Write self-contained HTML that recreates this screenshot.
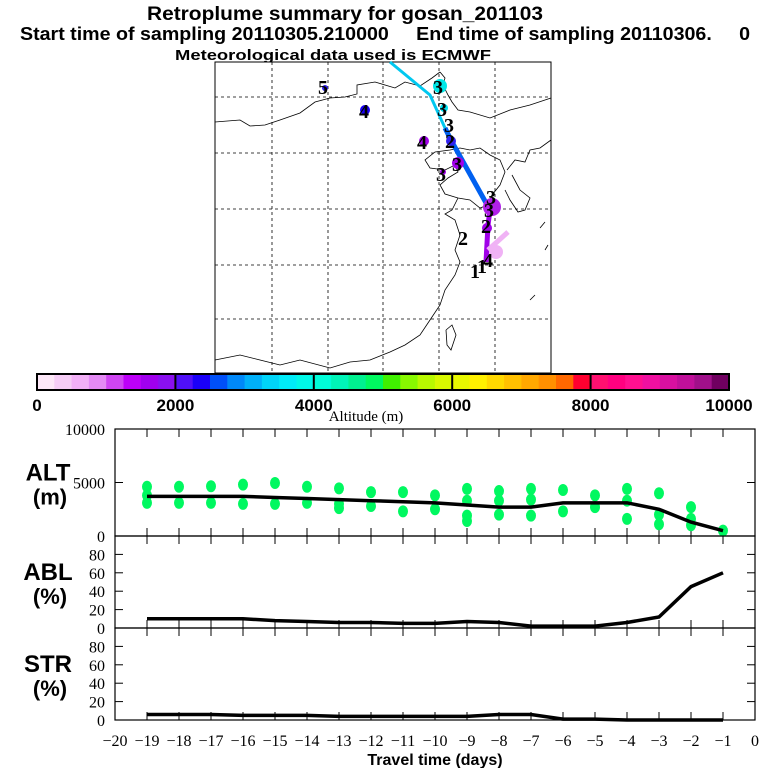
<!DOCTYPE html>
<html><head><meta charset="utf-8"><style>
html,body{margin:0;padding:0;background:#fff;}
svg{display:block;}
.t{font-family:"Liberation Sans",sans-serif;font-weight:bold;}
.s{font-family:"Liberation Serif",serif;}
text{white-space:pre;}
</style></head><body>
<svg id="c" width="768" height="768" viewBox="0 0 768 768" xmlns="http://www.w3.org/2000/svg">
<text class="t" x="147" y="20" font-size="19" textLength="396" lengthAdjust="spacingAndGlyphs">Retroplume summary for gosan_201103</text>
<text class="t" x="20" y="40" font-size="18" textLength="730" lengthAdjust="spacingAndGlyphs">Start time of sampling 20110305.210000     End time of sampling 20110306.     0</text>
<text class="t" x="175" y="60" font-size="15" textLength="316" lengthAdjust="spacingAndGlyphs">Meteorological data used is ECMWF</text>
<g id="map">
<rect x="215" y="62" width="336" height="311" fill="#fff" stroke="#000" stroke-width="1"/>
<g id="grid" stroke="#000" stroke-dasharray="3,3" stroke-width="0.8"></g>
<g fill="none" stroke="#000" stroke-width="0.8">
<polyline points="215,122 240,120 250,126 265,125 280,120 300,113 315,102 330,98 345,97 357,94 357,85 375,82 395,88 405,82 420,86 432,78 440,72"/>
<polyline points="440,72 445,78 443,85 448,95 452,102 458,110 470,112 490,118 510,110 530,105 551,98"/>
<polyline points="460,148 470,150 480,148 490,155 500,160 505,172 500,185 492,195 488,205 480,208 470,200 458,198 445,194 440,185 448,178 458,172 455,165 445,170 430,168 425,160 435,152 450,150 460,148"/>
<polyline points="458,198 452,210 445,214 455,220 460,235 455,250 460,262 455,275 445,290 440,305 430,320 420,335 405,345 390,352 370,360 350,362 330,368 300,360 280,365 260,360 240,355 215,360"/>
<polyline points="507,170 515,160 525,162 530,150 540,148 551,140"/>
<polyline points="512,175 520,190 530,198 525,210 518,212 510,200 505,190"/>
<polyline points="446,330 452,325 456,335 451,350 447,345 446,330"/>
<polyline points="530,300 535,295"/><polyline points="540,228 545,222"/><polyline points="545,250 548,245"/>
</g>
<g id="traj">
<polyline points="390,62 430,95 445,128" fill="none" stroke="#00c8f0" stroke-width="3"/>
<polyline points="445,128 452,142 490,210" fill="none" stroke="#0060f0" stroke-width="5"/>
<polyline points="490,210 488,225 486,262" fill="none" stroke="#a000e8" stroke-width="5"/>
<polyline points="488,250 508,232" fill="none" stroke="#f0b2f5" stroke-width="5"/>
<circle cx="440" cy="86" r="7" fill="#00e8e8"/><circle cx="444" cy="108" r="4" fill="#00e0f0"/>
<circle cx="451" cy="141" r="5" fill="#3020f0"/><circle cx="424" cy="141" r="5" fill="#a000e8"/>
<circle cx="458" cy="163" r="6" fill="#a000e8"/><circle cx="443" cy="172" r="3" fill="#a000e8"/>
<circle cx="365" cy="110" r="5" fill="#1a00f8"/><circle cx="325" cy="88" r="3" fill="#3020f0"/>
<circle cx="492" cy="207" r="9" fill="#b020e8"/><circle cx="487" cy="228" r="5" fill="#a000e8"/>
<circle cx="496" cy="252" r="7" fill="#f0b2f5"/>
</g>
<g class="s" font-size="20" fill="#000" font-weight="bold">
<text x="318" y="94">5</text><text x="359" y="118">4</text><text x="433" y="94">3</text><text x="437" y="116">3</text>
<text x="444" y="132">3</text><text x="445" y="148">2</text><text x="417" y="149">4</text><text x="452" y="171">3</text>
<text x="436" y="181">3</text><text x="486" y="204">3</text><text x="484" y="217">3</text><text x="481" y="233">2</text>
<text x="458" y="245">2</text><text x="483" y="267">4</text><text x="470" y="278">1</text><text x="477" y="273">1</text>
</g>
</g>
<g id="cbar"></g>
<text class="s" x="366" y="421" font-size="15" text-anchor="middle">Altitude (m)</text>
<g id="panels"></g>
<text class="t" x="435" y="765" font-size="16" text-anchor="middle">Travel time (days)</text>
</svg>
<script>
const NS="http://www.w3.org/2000/svg";
const days=[-19,-18,-17,-16,-15,-14,-13,-12,-11,-10,-9,-8,-7,-6,-5,-4,-3,-2,-1];
const altMean=[3700,3700,3700,3700,3600,3500,3400,3300,3200,3100,2900,2700,2700,3100,3100,3100,2500,1300,500];
const ablPct=[10,10,10,10,8,7,6,6,5,5,7,6,2,2,2,6,12,45,60];
const strPct=[6,6,6,5,5,5,4,4,4,4,4,6,6,1,1,0,0,0,0];
const dotDays=[-19,-19,-19,-18,-18,-17,-17,-16,-16,-15,-15,-14,-14,-13,-13,-13,-12,-12,-11,-11,-10,-10,-9,-9,-9,-9,-8,-8,-8,-7,-7,-7,-6,-6,-5,-5,-4,-4,-4,-3,-3,-3,-2,-2,-2,-1];
const dotAlts=[4600,3100,3800,4600,3100,4650,3100,4800,3000,4950,3000,4600,3100,4450,3000,2600,4100,2800,4100,2300,3800,2500,4400,3300,1900,1400,4200,3300,2000,4400,3400,1900,4300,2300,3800,2700,4400,3300,1600,4000,2000,1100,2700,1600,1000,500];
const cbColors=["#fde8f8","#f6cdf6","#f2b0f7","#e48af5","#cf45f2","#bd00f8","#a000ee","#8a10f0","#5010f8","#1a00f8","#0050f8","#0088f8","#00b0f8","#00d4f8","#00ecf8","#00f8e8","#00fcd8","#00f4b8","#00f090","#00f860","#40f000","#88f800","#b8f800","#d8f800","#e8f800","#fff000","#ffd800","#ffc000","#ffa800","#ff9000","#ff6800","#ff0030","#ff1070","#ff0080","#ff1090","#f010a0","#d810a0","#c0109a","#a0108a","#700060"];
const cbTicks=[0,2000,4000,6000,8000,10000];
const xTicks=[-20,-19,-18,-17,-16,-15,-14,-13,-12,-11,-10,-9,-8,-7,-6,-5,-4,-3,-2,-1,0];
const altTicks=[0,5000,10000];
const pctTicks=[0,20,40,60,80];
function mk(tag,attrs,parent){const e=document.createElementNS(NS,tag);for(const k in attrs)e.setAttribute(k,attrs[k]);parent.appendChild(e);return e;}
const grid=document.getElementById('grid');
[272,328,383,439,495].forEach(x=>mk('line',{x1:x,y1:62,x2:x,y2:373},grid));
[97,153,209,265,319].forEach(y=>mk('line',{x1:215,y1:y,x2:551,y2:y},grid));
const cb=document.getElementById('cbar');
const cbX=v=>37+v/10000*692;
cbColors.forEach((c,i)=>{const r=mk('rect',{x:cbX(i*250),y:374,width:692/40+0.5,height:16,fill:c},cb);

});
mk('rect',{x:37,y:374,width:692,height:16,fill:'none',stroke:'#000','stroke-width':2},cb);
cbTicks.forEach(v=>{mk('line',{x1:cbX(v),y1:374,x2:cbX(v),y2:390,stroke:'#000','stroke-width':2},cb);
const t=mk('text',{x:cbX(v),y:411,'font-size':17,'text-anchor':'middle','class':'t'},cb);t.textContent=v;

});
const P=document.getElementById('panels');
const X=d=>115+(d+20)*32;
const L=115,R=755;
function panel(top,bot,max,ticks,name,label1,label2){
 const Y=v=>bot-(v/max)*(bot-top);
 const g=mk('g',{},P);
 
 
 mk('rect',{x:L,y:top,width:R-L,height:bot-top,fill:'none',stroke:'#000','stroke-width':1.2},g);
 xTicks.forEach(d=>{if(d>-20&&d<0){mk('line',{x1:X(d),y1:top,x2:X(d),y2:top+8,stroke:'#000'},g);mk('line',{x1:X(d),y1:bot,x2:X(d),y2:bot-8,stroke:'#000'},g);}});
 ticks.forEach(v=>{mk('line',{x1:L,y1:Y(v),x2:L+8,y2:Y(v),stroke:'#000'},g);mk('line',{x1:R,y1:Y(v),x2:R-8,y2:Y(v),stroke:'#000'},g);
  if(v===max&&max===100)return;
  const t=mk('text',{x:L-10,y:Y(v)+6,'font-size':16,'text-anchor':'end','class':'s'},g);t.textContent=v;
  
  });
 const a=mk('text',{x:48,y:(top+bot)/2-2,'font-size':24,'text-anchor':'middle','class':'t'},g);a.textContent=label1;
 
 
 const b=mk('text',{x:50,y:(top+bot)/2+22,'font-size':22,'text-anchor':'middle','class':'t'},g);b.textContent=label2;
 
 
 return {g,Y};
}
const alt=panel(429,536,10000,altTicks,'alt','ALT','(m)');
dotDays.forEach((d,i)=>{const c=mk('ellipse',{cx:X(d),cy:alt.Y(dotAlts[i]),rx:5,ry:6,fill:'#00f860'},alt.g);

});
const lineA=mk('polyline',{points:days.map((d,i)=>X(d)+','+alt.Y(altMean[i])).join(' '),fill:'none',stroke:'#000','stroke-width':3.5},alt.g);


const abl=panel(536,628,100,[...pctTicks,100],'abl','ABL','(%)');
const lineB=mk('polyline',{points:days.map((d,i)=>X(d)+','+abl.Y(ablPct[i])).join(' '),fill:'none',stroke:'#000','stroke-width':3.5},abl.g);


const str=panel(628,720,100,[...pctTicks,100],'str','STR','(%)');
const lineC=mk('polyline',{points:days.map((d,i)=>X(d)+','+str.Y(strPct[i])).join(' '),fill:'none',stroke:'#000','stroke-width':3.5},str.g);


xTicks.forEach(d=>{const t=mk('text',{x:X(d),y:746,'font-size':16,'text-anchor':'middle','class':'s'},P);t.textContent=(d<0?'\u2212'+(-d):d);

});
</script>
</body></html>
